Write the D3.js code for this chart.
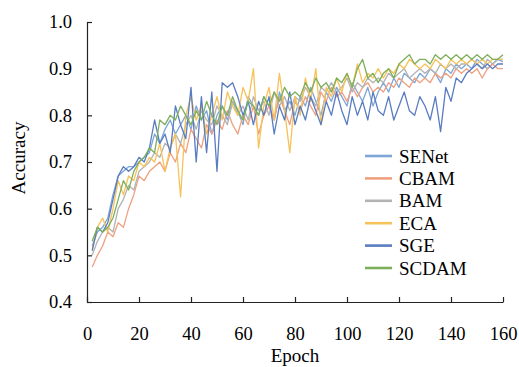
<!DOCTYPE html>
<html>
<head>
<meta charset="utf-8">
<script src="https://cdn.jsdelivr.net/npm/d3@7"></script>
<style>
  body { margin: 0; background: #fff; }
  svg text { font-family: "Liberation Serif", "Times New Roman", Times, serif !important; }
</style>
</head>
<body>
<figure id="chart" style="margin:0"></figure>
<script>
// epochs 2, 4, ..., 160
const epochs = d3.range(2, 161, 2);

const seriesNames = ["SENet", "CBAM", "BAM", "ECA", "SGE", "SCDAM"];
const yTicks = [0.4, 0.5, 0.6, 0.7, 0.8, 0.9, 1.0];
const xTicks = [0, 20, 40, 60, 80, 100, 120, 140, 160];

const senet = [
  0.52, 0.55, 0.56, 0.58, 0.63, 0.67, 0.68, 0.69,
  0.69, 0.70, 0.71, 0.72, 0.76, 0.74, 0.77, 0.79,
  0.76, 0.78, 0.80, 0.77, 0.82, 0.79, 0.81, 0.76,
  0.80, 0.82, 0.79, 0.83, 0.81, 0.78, 0.84, 0.82,
  0.80, 0.84, 0.82, 0.79, 0.85, 0.81, 0.83, 0.80,
  0.84, 0.82, 0.86, 0.83, 0.80, 0.85, 0.83, 0.86,
  0.84, 0.82, 0.87, 0.85, 0.83, 0.86, 0.82, 0.85,
  0.87, 0.85, 0.88, 0.86, 0.89, 0.88, 0.87, 0.89,
  0.88, 0.90, 0.89, 0.87, 0.90, 0.89, 0.91, 0.90,
  0.91, 0.90, 0.92, 0.91, 0.90, 0.91, 0.92, 0.915
];
const cbam = [
  0.475, 0.50, 0.52, 0.55, 0.54, 0.57, 0.56, 0.60,
  0.63, 0.67, 0.66, 0.68, 0.69, 0.70, 0.68, 0.72,
  0.70, 0.74, 0.72, 0.77, 0.75, 0.73, 0.78, 0.76,
  0.79, 0.77, 0.81, 0.78, 0.76, 0.80, 0.78, 0.82,
  0.76, 0.80, 0.82, 0.79, 0.84, 0.81, 0.78, 0.83,
  0.81, 0.84, 0.82, 0.80, 0.85, 0.83, 0.86, 0.84,
  0.85, 0.83, 0.86, 0.84, 0.86, 0.87, 0.85, 0.86,
  0.85, 0.87, 0.86, 0.88, 0.87, 0.86, 0.88, 0.87,
  0.88, 0.87, 0.89, 0.88, 0.89, 0.88, 0.90, 0.89,
  0.90, 0.89, 0.90, 0.88, 0.90, 0.91, 0.90, 0.90
];
const bam = [
  0.50, 0.53, 0.55, 0.56, 0.55, 0.60, 0.62, 0.65,
  0.64, 0.68, 0.69, 0.70, 0.72, 0.71, 0.74, 0.73,
  0.76, 0.74, 0.78, 0.80, 0.77, 0.81, 0.79, 0.78,
  0.82, 0.80, 0.78, 0.83, 0.80, 0.82, 0.79, 0.84,
  0.81, 0.83, 0.80, 0.85, 0.82, 0.84, 0.81, 0.84,
  0.83, 0.86, 0.84, 0.82, 0.86, 0.85, 0.87, 0.85,
  0.86, 0.88, 0.85, 0.87, 0.86, 0.88, 0.87, 0.88,
  0.87, 0.89, 0.88, 0.89, 0.90, 0.88, 0.89, 0.90,
  0.89, 0.90, 0.89, 0.91, 0.90, 0.91, 0.90, 0.91,
  0.91, 0.92, 0.91, 0.90, 0.92, 0.91, 0.92, 0.92
];
const eca = [
  0.51, 0.56, 0.58, 0.55, 0.60, 0.66, 0.63, 0.67,
  0.66, 0.70, 0.69, 0.71, 0.70, 0.74, 0.68, 0.73,
  0.76, 0.625, 0.80, 0.84, 0.79, 0.82, 0.76, 0.80,
  0.84, 0.79, 0.85, 0.82, 0.80, 0.86, 0.83, 0.90,
  0.73, 0.82, 0.86, 0.79, 0.89, 0.81, 0.72, 0.84,
  0.80, 0.88, 0.83, 0.90, 0.78, 0.86, 0.84, 0.88,
  0.85, 0.89, 0.86, 0.91, 0.87, 0.89, 0.88, 0.90,
  0.88, 0.90, 0.89, 0.91, 0.90, 0.92, 0.91, 0.90,
  0.91, 0.90, 0.92, 0.91, 0.90, 0.92, 0.91, 0.92,
  0.91, 0.92, 0.91, 0.92, 0.91, 0.92, 0.92, 0.92
];
const sge = [
  0.51, 0.56, 0.55, 0.57, 0.62, 0.67, 0.69, 0.68,
  0.69, 0.71, 0.70, 0.73, 0.79, 0.74, 0.76, 0.72,
  0.82, 0.78, 0.75, 0.86, 0.70, 0.84, 0.72, 0.85,
  0.68, 0.87, 0.86, 0.87, 0.84, 0.80, 0.83, 0.78,
  0.83, 0.80, 0.84, 0.76, 0.82, 0.79, 0.85, 0.78,
  0.82, 0.79, 0.84, 0.81, 0.78, 0.83, 0.80, 0.85,
  0.81, 0.78, 0.84, 0.80, 0.83, 0.79, 0.85, 0.81,
  0.80, 0.84, 0.79, 0.82, 0.85, 0.81, 0.80, 0.84,
  0.82, 0.79, 0.84, 0.765, 0.86, 0.83, 0.88, 0.87,
  0.89, 0.90, 0.91, 0.90, 0.91, 0.90, 0.91, 0.91
];
const scdam = [
  0.53, 0.56, 0.55, 0.56, 0.58, 0.62, 0.66, 0.64,
  0.68, 0.70, 0.71, 0.73, 0.72, 0.79, 0.78, 0.80,
  0.79, 0.82, 0.80, 0.78, 0.81, 0.79, 0.83, 0.80,
  0.78, 0.82, 0.80, 0.84, 0.81, 0.79, 0.83, 0.82,
  0.80, 0.84, 0.82, 0.85, 0.83, 0.86, 0.84, 0.85,
  0.84, 0.87, 0.85, 0.88, 0.86, 0.87, 0.85, 0.88,
  0.87, 0.89, 0.86, 0.90, 0.92, 0.88, 0.89, 0.87,
  0.89, 0.90, 0.88, 0.91, 0.92, 0.93, 0.91, 0.92,
  0.92, 0.91, 0.93, 0.92, 0.93, 0.92, 0.93, 0.92,
  0.93, 0.92, 0.93, 0.92, 0.93, 0.92, 0.92, 0.93
];

const colors = ["#7ea6d6", "#efa07f", "#b3b3b3", "#f6c25a", "#5a7cc0", "#7cb05a"];
const seriesValues = [senet, cbam, bam, eca, sge, scdam];

const W = 519, H = 367;
const margin = { top: 22, right: 16, bottom: 65, left: 87 };
const width = W - margin.left - margin.right;
const height = H - margin.top - margin.bottom;

const svg = d3.select("figure#chart")
  .append("svg")
  .attr("width", W)
  .attr("height", H);

const g = svg.append("g")
  .attr("transform", "translate(" + margin.left + "," + margin.top + ")");

const x = d3.scaleLinear().domain([0, 160]).range([0, width]);
const y = d3.scaleLinear().domain([0.4, 1.0]).range([height, 0]);

// x axis, ticks pointing up
const xAxis = g.append("g")
  .attr("transform", "translate(0," + height + ")")
  .call(d3.axisBottom(x).tickValues(xTicks).tickSizeInner(-5).tickSizeOuter(0).tickPadding(25));

// y axis, ticks pointing right
const yAxis = g.append("g")
  .call(d3.axisLeft(y).tickValues(yTicks).tickFormat(d3.format(".1f")).tickSizeInner(-5).tickSizeOuter(0).tickPadding(15));

[xAxis, yAxis].forEach(ax => {
  ax.attr("font-family", null);
  ax.selectAll("path, line").attr("stroke", "#222").attr("stroke-width", 1.2);
  ax.selectAll("text").attr("font-size", 18.5).attr("fill", "#000");
});

// lines
const line = d3.line()
  .x((d, i) => x(epochs[i]))
  .y(d => y(d));

seriesValues.forEach((vals, k) => {
  g.append("path")
    .datum(vals)
    .attr("fill", "none")
    .attr("stroke", colors[k])
    .attr("stroke-width", 1.3)
    .attr("stroke-linejoin", "round")
    .attr("d", line);
});

// axis titles
svg.append("text")
  .attr("transform", "translate(25," + (margin.top + height / 2 - 4) + ") rotate(-90)")
  .attr("text-anchor", "middle")
  .attr("font-size", 19)
  .attr("fill", "#000")
  .text("Accuracy");

svg.append("text")
  .attr("x", margin.left + width / 2)
  .attr("y", 362)
  .attr("text-anchor", "middle")
  .attr("font-size", 19)
  .attr("fill", "#000")
  .text("Epoch");

// legend
const legend = svg.append("g").attr("transform", "translate(365,156)");
seriesNames.forEach((name, k) => {
  const row = legend.append("g").attr("transform", "translate(0," + (k * 22.4) + ")");
  row.append("line")
    .attr("x1", 0).attr("x2", 27)
    .attr("stroke", colors[k])
    .attr("stroke-width", 2.6);
  row.append("text")
    .attr("x", 34)
    .attr("dy", "0.35em")
    .attr("font-size", 19)
    .attr("fill", "#000")
    .text(name);
});
</script>
</body>
</html>
